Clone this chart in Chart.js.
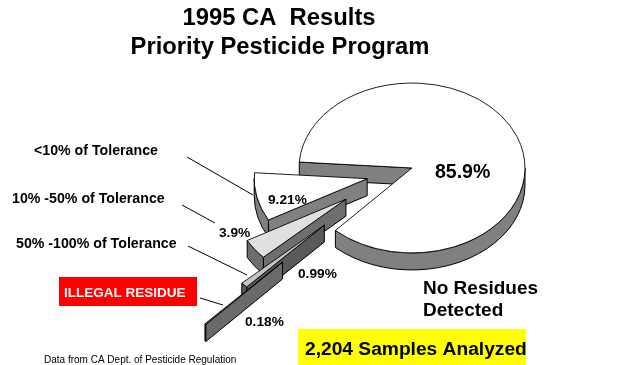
<!DOCTYPE html>
<html>
<head>
<meta charset="utf-8">
<title>1995 CA Results</title>
<script src="https://cdn.jsdelivr.net/npm/chart.js@4"></script>
<style>
  html, body { margin: 0; padding: 0; background: #fff; }
  canvas { display: block; }
</style>
</head>
<body>
<canvas id="chart-pesticide" width="625" height="365"></canvas>
<script>
const categories = ['No Residues Detected', 'ILLEGAL RESIDUE', '50% -100% of Tolerance', '10% -50% of Tolerance', '<10% of Tolerance'];
const percentValues = [85.9, 0.18, 0.99, 3.9, 9.21];
const titleLines = ['1995 CA  Results', 'Priority Pesticide Program'];

// look of the slices, same order as categories
const topColors = ['#ffffff', '#808080', '#c4c4c4', '#e0e0e0', '#ffffff'];
const sideColors = ['#808080', '#6a6a6a', '#5a5a5a', '#6e6e6e', '#808080'];
const explode = [0, 180, 116, 78, 47];
const explodeTilt = [0, 3, 4, 4, -5]; // degrees off the slice's own middle

const FONT = '"Liberation Sans", Arial, sans-serif';
const PIE_X = 412;
const PIE_Y = 168;
const PIE_R = 113;
const SQUASH = 0.752;
const DEPTH = 17;

/** Extruded walls plus the slice tops, back to front */
const pie3d = {
  id: 'pie3d',
  beforeDatasetDraw(chart) {
    const ctx = chart.ctx;
    const arcs = chart.getDatasetMeta(0).data;
    const order = [0];
    for (let i = arcs.length - 1; i > 0; i--) order.push(i);

    order.forEach(i => {
      const arc = arcs[i];
      const dir = (arc.startAngle + arc.endAngle) / 2 + explodeTilt[i] * Math.PI / 180;
      const ax = PIE_X + Math.cos(dir) * explode[i];
      const ay = PIE_Y + Math.sin(dir) * explode[i] * SQUASH;
      const r = arc.outerRadius;

      ctx.save();
      ctx.lineWidth = 1;
      ctx.strokeStyle = '#000';
      ctx.fillStyle = sideColors[i];

      // outer wall, only the part that faces the viewer
      [[0, Math.PI], [Math.PI * 2, Math.PI * 3]].forEach(([lo, hi]) => {
        const a1 = Math.max(arc.startAngle, lo);
        const a2 = Math.min(arc.endAngle, hi);
        if (a2 <= a1) return;
        ctx.beginPath();
        ctx.ellipse(ax, ay, r, r * SQUASH, 0, a1, a2);
        ctx.ellipse(ax, ay + DEPTH, r, r * SQUASH, 0, a2, a1, true);
        ctx.closePath();
        ctx.fill();
        ctx.stroke();
      });

      // cut face along the start edge
      const px = ax + Math.cos(arc.startAngle) * r;
      const py = ay + Math.sin(arc.startAngle) * r * SQUASH;
      ctx.beginPath();
      ctx.moveTo(ax, ay);
      ctx.lineTo(px, py);
      ctx.lineTo(px, py + DEPTH);
      ctx.lineTo(ax, ay + DEPTH);
      ctx.closePath();
      ctx.fill();
      ctx.stroke();

      // top of the slice, drawn by the library in a squashed space
      ctx.translate(ax, ay);
      ctx.scale(1, SQUASH);
      ctx.translate(-arc.x, -arc.y);
      arc.draw(ctx);
      ctx.restore();
    });
    return false;
  }
};

function putText(ctx, text, x, y, font, color, align) {
  ctx.font = font;
  ctx.fillStyle = color || '#000';
  ctx.textAlign = align || 'left';
  ctx.textBaseline = 'alphabetic';
  ctx.fillText(text, x, y);
}

/** Boxes, leader lines and every label */
const annotations = {
  id: 'annotations',
  afterDraw(chart) {
    const ctx = chart.ctx;
    ctx.save();

    ctx.fillStyle = '#ff0000';
    ctx.fillRect(59, 277, 138, 29);
    ctx.fillStyle = '#ffff00';
    ctx.fillRect(298, 329, 228, 36);

    ctx.strokeStyle = '#000';
    ctx.lineWidth = 1;
    [[187, 157, 253, 195], [182, 205, 215, 223], [188, 246, 247, 275], [200, 298, 223, 305]].forEach(l => {
      ctx.beginPath();
      ctx.moveTo(l[0], l[1]);
      ctx.lineTo(l[2], l[3]);
      ctx.stroke();
    });

    const titleFont = 'bold 23.8px ' + FONT;
    putText(ctx, titleLines[0], 279, 25, titleFont, '#000', 'center');
    putText(ctx, titleLines[1], 280, 54, titleFont, '#000', 'center');

    const catFont = 'bold 14.2px ' + FONT;
    putText(ctx, categories[4], 34, 155, catFont);
    putText(ctx, categories[3], 12, 203, catFont);
    putText(ctx, categories[2], 16, 248, catFont);
    putText(ctx, categories[1], 64, 297, 'bold 13.5px ' + FONT, '#fff');

    putText(ctx, 'No Residues', 423, 294, 'bold 19px ' + FONT);
    putText(ctx, 'Detected', 423, 316, 'bold 19px ' + FONT);

    const pctFont = 'bold 13.7px ' + FONT;
    putText(ctx, percentValues[0] + '%', 435, 178, 'bold 19.5px ' + FONT);
    putText(ctx, percentValues[4] + '%', 268, 204, pctFont);
    putText(ctx, percentValues[3] + '%', 219, 237, pctFont);
    putText(ctx, percentValues[2] + '%', 298, 278, pctFont);
    putText(ctx, percentValues[1] + '%', 245, 326, pctFont);

    putText(ctx, '2,204 Samples Analyzed', 305, 355, 'bold 19.2px ' + FONT);
    putText(ctx, 'Data from CA Dept. of Pesticide Regulation', 44, 363, '10px ' + FONT);
    ctx.restore();
  }
};

new Chart(document.getElementById('chart-pesticide'), {
  type: 'pie',
  data: {
    labels: categories,
    datasets: [{
      data: percentValues,
      backgroundColor: topColors,
      borderColor: '#000',
      borderWidth: 1,
      radius: PIE_R
    }]
  },
  options: {
    responsive: false,
    animation: false,
    rotation: 274,
    plugins: {
      legend: { display: false },
      tooltip: { enabled: false }
    }
  },
  plugins: [pie3d, annotations]
});
</script>
</body>
</html>
